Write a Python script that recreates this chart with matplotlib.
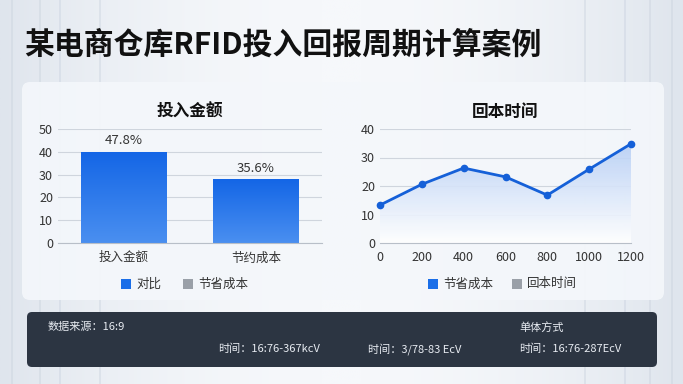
import matplotlib
matplotlib.use("Agg")
import matplotlib.pyplot as plt
import numpy as np
from matplotlib.patches import FancyBboxPatch, Rectangle
from matplotlib.colors import LinearSegmentedColormap

plt.rcParams['font.family'] = ['Noto Sans CJK SC', 'DejaVu Sans']

# data
title = "某电商仓库RFID投入回报周期计算案例"
bar_cats = ["投入金额", "节约成本"]
bar_vals = [40, 28]
bar_labels = ["47.8%", "35.6%"]
line_x = [0, 200, 400, 600, 800, 1000, 1200]
line_y = [13.3, 20.6, 26.3, 23.2, 16.8, 25.9, 34.8]
footer = [
    ("数据来源：16:9", 48, 327),
    ("时间：16:76-367kcV", 218, 349),
    ("时间：3/78-83 EcV", 368, 349),
    ("单体方式", 519, 327),
    ("时间：16:76-287EcV", 519, 349),
]

W, H = 683, 384
fig = plt.figure(figsize=(W / 100, H / 100), dpi=100)


def fx(x):
    return x / W


def fy(y):
    return 1 - y / H


# background
bg = fig.add_axes([0, 0, 1, 1])
bg.set_xlim(0, W)
bg.set_ylim(H, 0)
bg.axis("off")
xx = np.linspace(0, 1, 300)
edge = np.abs(xx - 0.5) * 2
grad = np.tile(edge ** 2, (50, 1))
bgcmap = LinearSegmentedColormap.from_list("bg", ["#f6f8fb", "#dfe5ed"])
bg.imshow(grad, extent=[0, W, H, 0], aspect="auto", cmap=bgcmap, zorder=0)
for sx in [12, 40, 60, 100, 585, 625, 650, 672]:
    bg.plot([sx, sx], [0, H], color="#c9d2de", lw=1.2, alpha=0.5, zorder=1)

# main panel
bg.add_patch(FancyBboxPatch((22, 82), 642, 218, boxstyle="round,pad=0,rounding_size=8",
                            fc="#f4f7fb", ec="none", alpha=0.92, zorder=2))
# footer panel
bg.add_patch(FancyBboxPatch((27, 312), 630, 55, boxstyle="round,pad=0,rounding_size=5",
                            fc="#2c3542", ec="none", zorder=2))

bg.text(24, 45, title, fontsize=21.5, fontweight="bold", color="#111111",
        va="center", ha="left", zorder=3)
for txt, x, y in footer:
    bg.text(x, y, txt, fontsize=8, color="#e8ecf2", va="center", ha="left", zorder=3)

blue = "#1a6ee8"
grey = "#9aa0a8"

# left bar chart
ax1 = fig.add_axes([fx(58), fy(243), fx(322 - 58), (243 - 129) / H])
ax1.set_xlim(-0.5, 1.5)
ax1.set_ylim(0, 50)
bcmap = LinearSegmentedColormap.from_list("bar", ["#4a8ff0", "#1466e6"])
w = 0.65
for i, v in enumerate(bar_vals):
    r = Rectangle((i - w / 2, 0), w, v, fc="none", ec="none")
    ax1.add_patch(r)
    im = ax1.imshow(np.linspace(0, 1, 100).reshape(-1, 1), extent=[i - w / 2, i + w / 2, 0, v],
                    origin="lower", aspect="auto", cmap=bcmap, zorder=2)
    im.set_clip_path(r)
    ax1.text(i, v + 2, bar_labels[i], ha="center", va="bottom", fontsize=9.5, color="#333333")
ax1.set_xticks(range(len(bar_cats)))
ax1.set_xticklabels(bar_cats)
ax1.set_yticks(range(0, 51, 10))
ax1.set_title("投入金额", fontsize=12, fontweight="bold", color="#111111", pad=9)

# right line chart
ax2 = fig.add_axes([fx(380), fy(243), fx(631 - 380), (243 - 129) / H])
ax2.set_xlim(0, 1200)
ax2.set_ylim(0, 40)
ax2.plot(line_x, line_y, color="#1560d8", lw=2, marker="o", ms=4.5, zorder=3, clip_on=False)
poly = ax2.fill_between(line_x, line_y, 0, color="none")
acmap = LinearSegmentedColormap.from_list("area", ["#ffffff", "#b7cff5"])
im2 = ax2.imshow(np.linspace(0, 1, 100).reshape(-1, 1), extent=[0, 1200, 0, max(line_y)],
                 origin="lower", aspect="auto", cmap=acmap, alpha=0.9, zorder=1)
im2.set_clip_path(poly.get_paths()[0], transform=ax2.transData)
ax2.set_xticks(line_x)
ax2.set_yticks(range(0, 41, 10))
ax2.set_title("回本时间", fontsize=12, fontweight="bold", color="#111111", pad=9)

for ax in (ax1, ax2):
    ax.set_facecolor("none")
    ax.grid(axis="y", color="#cfd5dd", lw=0.8, zorder=0)
    ax.set_axisbelow(True)
    for s in ["top", "right", "left"]:
        ax.spines[s].set_visible(False)
    ax.spines["bottom"].set_color("#b8bfc8")
    ax.tick_params(length=0, labelsize=9, colors="#333333")
    ax.tick_params(axis="x", pad=6)

# legends
def legend(x, y, items):
    for txt, col, dx in items:
        bg.add_patch(Rectangle((x + dx, y - 5), 10, 10, fc=col, ec="none", zorder=3))
        bg.text(x + dx + 15, y, txt, fontsize=9, color="#333333", va="center", ha="left", zorder=3)


legend(121, 284, [("对比", blue, 0), ("节省成本", grey, 62)])
legend(428, 284, [("节省成本", blue, 0), ("回本时间", grey, 84)])

fig.savefig("out.png", dpi=100)
